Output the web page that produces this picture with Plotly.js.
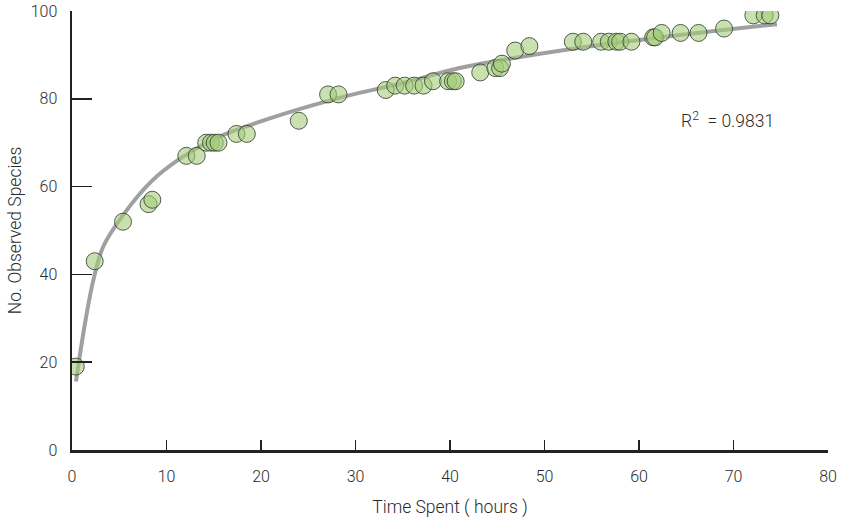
<!DOCTYPE html>
<html>
<head>
<meta charset="utf-8">
<script src="https://cdn.plot.ly/plotly-3.0.1.min.js"></script>
<style>html,body{margin:0;padding:0;background:#fff;}#chart{width:845px;height:518px;}</style>
</head>
<body>
<div id="chart"></div>
<script>
// Observed points (time spent in hours, number of observed species)
const timeHours = [0.4, 2.4, 5.4, 8.1, 8.5, 12.1, 13.2, 14.2, 14.7, 15.1, 15.5, 17.4, 18.5, 24.0, 27.1, 28.2,
  33.2, 34.2, 35.2, 36.2, 37.2, 38.2, 39.8, 40.3, 40.6, 43.2, 44.8, 45.3, 45.5, 46.9, 48.4,
  53.0, 54.1, 56.0, 56.8, 57.6, 58.0, 59.2, 61.5, 61.7, 62.4, 64.4, 66.3, 69.0, 72.1, 73.3, 73.9];
const species = [19, 43, 52, 56, 57, 67, 67, 70, 70, 70, 70, 72, 72, 75, 81, 81,
  82, 83, 83, 83, 83, 84, 84, 84, 84, 86, 87, 87, 88, 91, 92,
  93, 93, 93, 93, 93, 93, 93, 94, 94, 95, 95, 95, 96, 99, 99, 99];
// Fitted trend curve
const fitX = [0.42, 1.38, 2.26, 3.3, 5.4, 8.4, 11.4, 15.5, 19.9, 22, 29, 35, 41, 46, 53, 60, 67, 74.6];
const fitY = [15.6, 28.9, 38.7, 46.3, 53.5, 61.2, 66.3, 71.3, 74.8, 76.3, 80.6, 83.6, 87.0, 89.0, 91.4, 93.4, 95.2, 97.0];
const xTicks = [0, 10, 20, 30, 40, 50, 60, 70, 80];
const yTicks = [0, 20, 40, 60, 80, 100];
const r2Text = 'R<sup>2</sup>  = 0.9831';

const FONT = 'Roboto, "DejaVu Sans Condensed", sans-serif';
const TICK = {family: FONT, size: 16, color: '#2b2b2b', weight: 300};
const TITLE = {family: FONT, size: 17.5, color: '#2b2b2b', weight: 300};

const traces = [
  {x: fitX, y: fitY, type: 'scatter', mode: 'lines', line: {color: 'rgba(150,150,150,0.9)', width: 4, shape: 'spline', smoothing: 1}, hoverinfo: 'skip'},
  {x: timeHours, y: species, type: 'scatter', mode: 'markers',
   marker: {size: 17, color: 'rgba(163,205,122,0.6)', line: {color: 'rgba(55,65,55,0.85)', width: 1}}}
];

const layout = {
  width: 845, height: 518,
  margin: {l: 72, r: 17, t: 11, b: 68},
  paper_bgcolor: '#fff', plot_bgcolor: '#fff',
  showlegend: false,
  font: TICK,
  xaxis: {
    range: [0, 80], tickvals: xTicks, ticktext: xTicks.map(String),
    ticks: 'inside', ticklen: 10, tickwidth: 1.5, tickcolor: '#222',
    showline: true, linecolor: '#222', linewidth: 2.5, showgrid: false, zeroline: false,
    ticklabelstandoff: 10, tickfont: TICK,
    title: {text: 'Time Spent ( hours )', font: TITLE, standoff: 16}
  },
  yaxis: {
    range: [0, 100], tickvals: yTicks, ticktext: yTicks.map(String),
    ticks: 'inside', ticklen: 20, tickwidth: 1.5, tickcolor: '#222',
    showline: true, linecolor: '#222', linewidth: 2.5, showgrid: false, zeroline: false,
    ticklabelstandoff: 9, tickfont: TICK,
    title: {text: 'No. Observed Species', font: TITLE, standoff: 5}
  },
  annotations: [{x: 64.2, y: 75.2, xref: 'x', yref: 'y', xanchor: 'left', yanchor: 'middle', showarrow: false,
    text: r2Text, font: TITLE}]
};

Plotly.newPlot('chart', traces, layout, {displayModeBar: false, staticPlot: true});
</script>
</body>
</html>
